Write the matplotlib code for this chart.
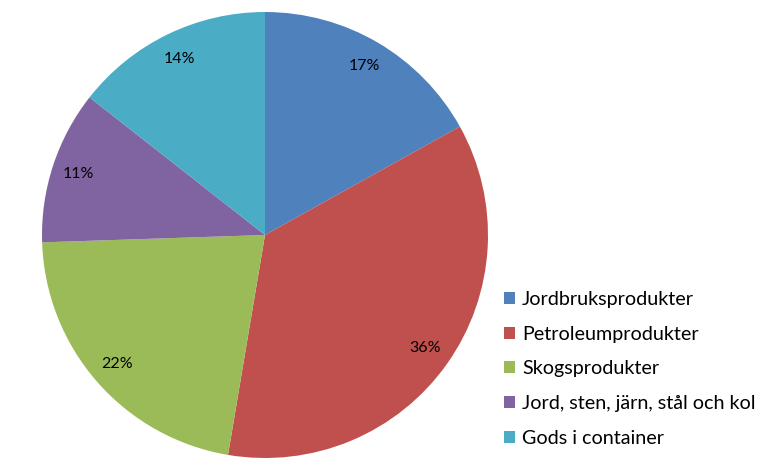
import matplotlib
matplotlib.use("Agg")
import matplotlib.pyplot as plt

CATEGORIES = [
    "Jordbruksprodukter",
    "Petroleumprodukter",
    "Skogsprodukter",
    "Jord, sten, järn, stål och kol",
    "Gods i container",
]
SHARES = [16.9, 35.7, 21.8, 11.1, 14.4]
COLORS = ["#4F81BD", "#C0504D", "#9BBB59", "#8064A2", "#4BACC6"]

plt.rcParams["font.family"] = ["Lato", "DejaVu Sans"]

fig = plt.figure(figsize=(7.63, 4.75), dpi=100)
ax = fig.add_axes([42 / 763, 17 / 475, 446 / 763, 446 / 475])

wedges, texts, autotexts = ax.pie(
    SHARES, colors=COLORS, startangle=90, counterclock=False,
    autopct="%1.0f%%", pctdistance=0.88, radius=1.0,
    wedgeprops=dict(linewidth=0),
    textprops=dict(fontsize=11.5, color="black"),
)
ax.set_xlim(-1, 1)
ax.set_ylim(-1, 1)
ax.set_aspect("equal")

fig.legend(wedges, CATEGORIES, loc="upper left", bbox_to_anchor=(496 / 763, 1 - 283 / 475),
           frameon=False, fontsize=14.2, handlelength=0.56, handleheight=0.56,
           handletextpad=0.36, labelspacing=0.9, borderaxespad=0)

fig.savefig("out.png", dpi=100)
